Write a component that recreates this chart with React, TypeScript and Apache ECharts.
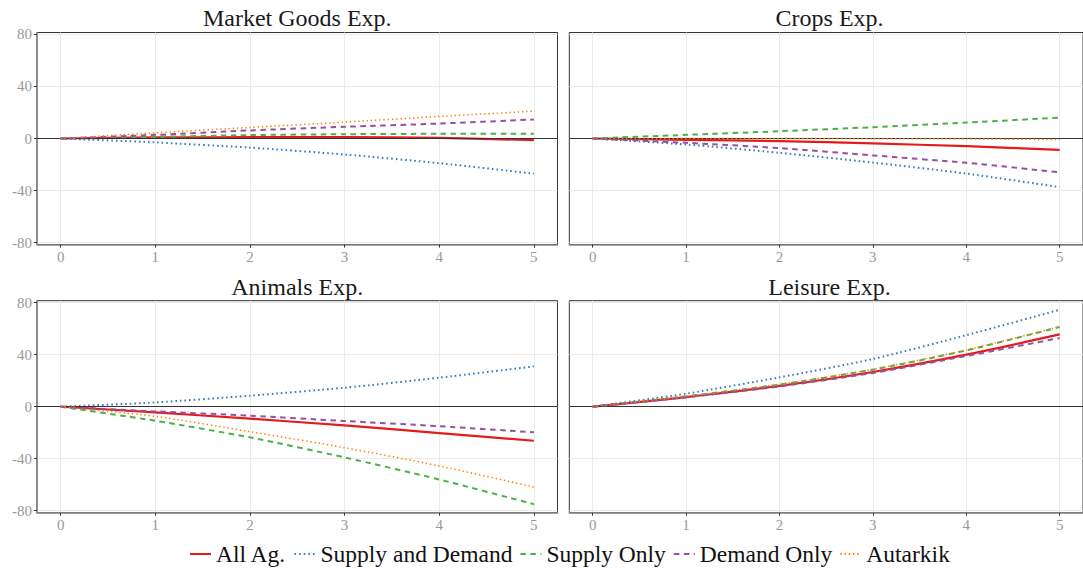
import React, { useEffect, useRef } from "react";
import * as echarts from "echarts";

// ---------- data ----------
const years = [0, 1, 2, 3, 4, 5];
const seriesNames = ["All Ag.", "Supply and Demand", "Supply Only", "Demand Only", "Autarkik"];
const panelTitles = ["Market Goods Exp.", "Crops Exp.", "Animals Exp.", "Leisure Exp."];
const xTicks = [0, 1, 2, 3, 4, 5];
const yTicks = [-80, -40, 0, 40, 80];

const marketAllAg = [0, 0.8, 1, 1, 0.5, -1.3];
const marketSupplyDemand = [0, -3, -7, -12.3, -19, -27];
const marketSupplyOnly = [0, 1.3, 2.6, 3.3, 3.6, 3.6];
const marketDemandOnly = [0, 2.8, 6.2, 9, 11.5, 14.6];
const marketAutarkik = [0, 4.4, 8.5, 12.6, 17, 21];

const cropsAllAg = [0, -1, -2, -3.8, -5.9, -8.7];
const cropsSupplyDemand = [0, -4.6, -11, -18.5, -27, -37.4];
const cropsSupplyOnly = [0, 2.8, 5.6, 8.7, 12.3, 16];
const cropsDemandOnly = [0, -3.3, -7.4, -13, -18.7, -26];
const cropsAutarkik = [0, 0, 0, -0.1, -0.3, -0.8];

const animalsAllAg = [0, -4.4, -9.2, -14.4, -20.3, -26.2];
const animalsSupplyDemand = [0, 3.3, 8.5, 14.6, 22.3, 31];
const animalsSupplyOnly = [0, -10.8, -23.6, -39, -56, -75];
const animalsDemandOnly = [0, -3.6, -6.9, -11, -15, -19.7];
const animalsAutarkik = [0, -7.4, -19.2, -31.5, -45.6, -61.8];

const leisureAllAg = [0, 7.4, 16, 26.7, 40, 55.6];
const leisureSupplyDemand = [0, 10, 22.6, 36.7, 55, 74.6];
const leisureSupplyOnly = [0, 8, 17, 28.5, 43.3, 61.3];
const leisureDemandOnly = [0, 7.2, 15.6, 26, 39, 52.8];
const leisureAutarkik = [0, 8, 17.2, 28.8, 43.6, 61.6];

const panelData = [
  [marketAllAg, marketSupplyDemand, marketSupplyOnly, marketDemandOnly, marketAutarkik],
  [cropsAllAg, cropsSupplyDemand, cropsSupplyOnly, cropsDemandOnly, cropsAutarkik],
  [animalsAllAg, animalsSupplyDemand, animalsSupplyOnly, animalsDemandOnly, animalsAutarkik],
  [leisureAllAg, leisureSupplyDemand, leisureSupplyOnly, leisureDemandOnly, leisureAutarkik],
];

// ---------- layout / style ----------
const FONT = "'Liberation Serif', 'DejaVu Serif', serif";
const panelPos = [
  { left: 37, top: 32.5 },
  { left: 569.3, top: 32.5 },
  { left: 37, top: 300.7 },
  { left: 569.3, top: 300.7 },
];
const panelW = 520.5;
const panelH = 212;

const lineStyles: any[] = [
  { color: "#E41A1C", type: "solid", width: 2.2 },
  { color: "#377EB8", type: [1.6, 3], width: 2 },
  { color: "#4DAF4A", type: [5.5, 4.5], width: 2 },
  { color: "#984EA3", type: [5.5, 4.5], width: 2 },
  { color: "#FF7F00", type: [1.4, 2.8], width: 1.5 },
];

export default function App() {
  const ref = useRef<HTMLDivElement>(null);
  useEffect(() => {
    if (!ref.current) return;
    const chart = echarts.init(ref.current, null, { renderer: "svg" });

    const grid = panelPos.map((p) => ({
      left: p.left,
      top: p.top,
      width: panelW,
      height: panelH,
      show: true,
      borderColor: "#333",
      borderWidth: 1,
      backgroundColor: "transparent",
    }));

    const xAxis = panelPos.map((_, i) => ({
      type: "value",
      gridIndex: i,
      min: -0.25,
      max: 5.25,
      axisLine: { show: true, onZero: false, lineStyle: { color: "#8a8a8a", width: 1.5 } },
      axisTick: { show: true, customValues: xTicks, length: 3, lineStyle: { color: "#333" } },
      axisLabel: {
        customValues: xTicks,
        color: "#999",
        fontSize: 15,
        fontFamily: FONT,
        margin: 5,
      },
      splitLine: { show: true, lineStyle: { color: "#ebebeb", width: 1 } },
    }));

    const yAxis = panelPos.map((_, i) => ({
      type: "value",
      gridIndex: i,
      min: -81.53,
      max: 81.53,
      axisLine: { show: i % 2 === 0, onZero: false, lineStyle: { color: "#8a8a8a", width: 1.5 } },
      axisTick: { show: i % 2 === 0, customValues: yTicks, length: 3, lineStyle: { color: "#333" } },
      axisLabel: {
        show: i % 2 === 0,
        customValues: yTicks,
        color: "#999",
        fontSize: 15,
        fontFamily: FONT,
        margin: 5,
      },
      splitLine: { show: true, lineStyle: { color: "#ebebeb", width: 1 } },
    }));

    const series: any[] = [];
    panelData.forEach((sets, gi) => {
      series.push({
        type: "line",
        name: "zero" + gi,
        xAxisIndex: gi,
        yAxisIndex: gi,
        data: [],
        z: 1,
        silent: true,
        markLine: {
          silent: true,
          symbol: "none",
          label: { show: false },
          lineStyle: { color: "#333", width: 1, type: "solid" },
          data: [{ yAxis: 0 }],
        },
      });
      sets.forEach((vals, si) => {
        series.push({
          type: "line",
          name: seriesNames[si],
          xAxisIndex: gi,
          yAxisIndex: gi,
          data: years.map((x, k) => [x, vals[k]]),
          symbol: "none",
          showSymbol: false,
          smooth: 0.25,
          z: 2 + si,
          lineStyle: lineStyles[si],
          itemStyle: { color: lineStyles[si].color },
        });
      });
    });

    const graphic = panelTitles.map((t, i) => ({
      type: "text",
      x: panelPos[i].left + panelW / 2,
      y: i < 2 ? 18 : 286.5,
      style: {
        text: t,
        fontSize: 24,
        fontFamily: FONT,
        fill: "#1a1a1a",
        align: "center",
        verticalAlign: "middle",
        textAlign: "center",
        textVerticalAlign: "middle",
      },
    }));

    chart.setOption({
      animation: false,
      backgroundColor: "#fff",
      textStyle: { fontFamily: FONT },
      grid,
      xAxis,
      yAxis,
      series,
      graphic,
      legend: {
        data: seriesNames,
        top: 542,
        left: 189,
        itemWidth: 21,
        itemHeight: 12,
        itemGap: 7,
        padding: 0,
        itemStyle: { opacity: 0 },
        textStyle: { fontSize: 23.5, fontFamily: FONT, color: "#111" },
      },
    });
    return () => chart.dispose();
  }, []);
  return (
    <div
      ref={ref}
      style={{ position: "fixed", left: 0, top: 0, width: 1083, height: 569, background: "#fff" }}
    />
  );
}
